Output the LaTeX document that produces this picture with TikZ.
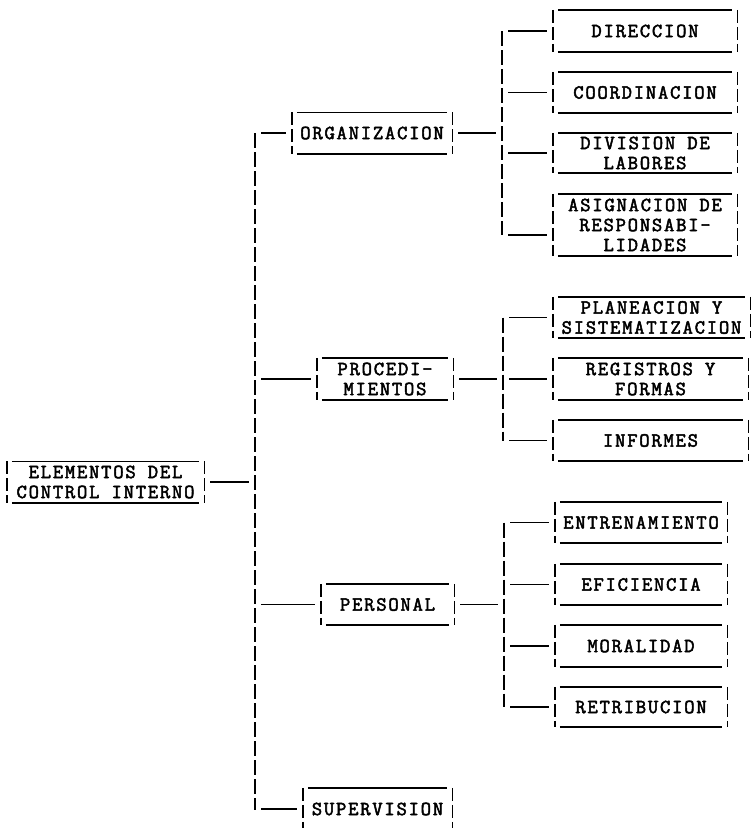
\documentclass[tikz,border=0pt]{standalone}
\usepackage{fontspec}
\setmonofont{Latin Modern Mono}[LetterSpace=9, FakeBold=2.5]
\usepackage{tikz}
\usetikzlibrary{calc}
\tikzset{
  box_node/.style = {align=center, inner sep=0pt, text centered,
    font=\ttfamily\fontsize{20}{20}\selectfont, minimum height=41pt},
  rule_line/.style = {line width=1.6pt, shorten <=5pt, shorten >=5pt},
  side_line/.style = {line width=1.4pt, dash pattern=on 13pt off 4pt},
  stub_line/.style = {line width=1.6pt, shorten <=6pt, shorten >=6pt},
  trunk_line/.style = {line width=1.4pt, dash pattern=on 15pt off 4pt}
}

\begin{document}
\begin{tikzpicture}[x=1pt, y=-1pt]
  \useasboundingbox (0,0) rectangle (751,828);
  % main box and first level
  \node (elementos) [box_node, minimum width=197pt] at (105.5,482) {ELEMENTOS DEL\\CONTROL INTERNO};
  \node (organizacion) [box_node, minimum width=160pt] at (372,133) {ORGANIZACION};
  \node (procedimientos) [box_node, minimum width=136pt, minimum height=42pt] at (385,379) {PROCEDI-\\MIENTOS};
  \node (personal) [box_node, minimum width=133pt] at (387.5,604.5) {PERSONAL};
  \node (supervision) [box_node, minimum width=149pt, minimum height=42pt] at (377.5,809) {SUPERVISION};
  % second level
  \node (direccion) [box_node, minimum width=184pt, minimum height=42pt] at (645,31) {DIRECCION};
  \node (coordinacion) [box_node, minimum width=184pt] at (645,92.5) {COORDINACION};
  \node (division) [box_node, minimum width=184pt, minimum height=40pt] at (645,153) {DIVISION DE\\LABORES};
  \node (asignacion) [box_node, minimum width=184pt, minimum height=62pt] at (645,225) {ASIGNACION DE\\RESPONSABI-\\LIDADES};
  \node (planeacion) [box_node, minimum width=197pt] at (651.5,317.5) {PLANEACION Y\\SISTEMATIZACION};
  \node (registros) [box_node, minimum width=195pt, minimum height=42pt] at (650.5,379) {REGISTROS Y\\FORMAS};
  \node (informes) [box_node, minimum width=195pt] at (650.5,440.5) {INFORMES};
  \node (entrenamiento) [box_node, minimum width=172pt] at (641,522.5) {ENTRENAMIENTO};
  \node (eficiencia) [box_node, minimum width=172pt] at (641,584.5) {EFICIENCIA};
  \node (moralidad) [box_node, minimum width=172pt, minimum height=42pt] at (641,646) {MORALIDAD};
  \node (retribucion) [box_node, minimum width=172pt, minimum height=40pt] at (641,707) {RETRIBUCION};
  % typewriter borders
  \foreach \n in {elementos, organizacion, procedimientos, personal, supervision,
      direccion, coordinacion, division, asignacion, planeacion, registros,
      informes, entrenamiento, eficiencia, moralidad, retribucion} {
    \draw [rule_line] (\n.north west) -- (\n.north east);
    \draw [rule_line] (\n.south west) -- (\n.south east);
    \draw [side_line] (\n.north west) -- (\n.south west);
    \draw [side_line] (\n.north east) -- (\n.south east);
  }
  % trunk
  \coordinate (trunk top) at (255,133);
  \coordinate (trunk end) at (255,810);
  \draw [trunk_line] (trunk top) -- (trunk end);
  \draw [stub_line] (elementos.east) -- (elementos.east -| trunk top);
  \foreach \n in {organizacion, procedimientos, personal, supervision}
    \draw [stub_line] (\n.west -| trunk top) -- (\n.west);
  % organizacion branch
  \coordinate (org bar) at (502,0);
  \coordinate (asig stub) at ([yshift=-10pt]asignacion.west);
  \draw [stub_line] (organizacion.east) -- (organizacion.east -| org bar);
  \draw [trunk_line] (direccion.west -| org bar) -- (asig stub -| org bar);
  \foreach \n in {direccion, coordinacion, division}
    \draw [stub_line] (\n.west -| org bar) -- (\n.west);
  \draw [stub_line] (asig stub -| org bar) -- (asig stub);
  % procedimientos branch
  \coordinate (proc bar) at (503,0);
  \draw [stub_line] (procedimientos.east) -- (procedimientos.east -| proc bar);
  \draw [trunk_line] (planeacion.west -| proc bar) -- (informes.west -| proc bar);
  \foreach \n in {planeacion, registros, informes}
    \draw [stub_line] (\n.west -| proc bar) -- (\n.west);
  % personal branch
  \coordinate (pers bar) at (504,0);
  \draw [stub_line] (personal.east) -- (personal.east -| pers bar);
  \draw [trunk_line] (entrenamiento.west -| pers bar) -- (retribucion.west -| pers bar);
  \foreach \n in {entrenamiento, eficiencia, moralidad, retribucion}
    \draw [stub_line] (\n.west -| pers bar) -- (\n.west);
\end{tikzpicture}
\end{document}
